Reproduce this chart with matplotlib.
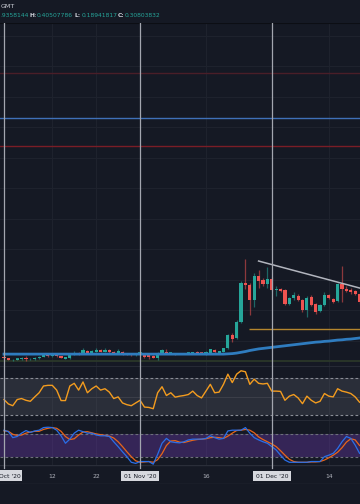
import numpy as np
import matplotlib.pyplot as plt
from matplotlib.patches import Rectangle

# daily candles, day 0 = 01 Oct 2020
opens = [.027, .022, .014, .017, .019, .024, .018, .019, .022, .027,
         .035, .030, .033, .030, .021, .022, .036, .043, .040, .050,
         .040, .048, .053, .048, .055, .047, .041, .047, .041, .037,
         .033, .041, .037, .036, .031, .024, .041, .047, .040, .042,
         .041, .039, .041, .040, .048, .042, .038, .041, .055, .044,
         .047, .060, .110, .100, .162, .312, .304, .246, .338, .323,
         .308, .327, .285, .288, .285, .231, .254, .262, .246, .208,
         .258, .231, .204, .227, .265, .250, .242, .308, .288, .285,
         .281, .269]
highs = [.030, .024, .019, .021, .025, .030, .023, .026, .029, .035,
         .037, .036, .035, .032, .027, .037, .050, .046, .060, .055,
         .052, .062, .056, .060, .058, .050, .058, .050, .043, .039,
         .043, .045, .039, .038, .033, .048, .056, .056, .044, .044,
         .043, .044, .045, .048, .050, .045, .049, .058, .058, .051,
         .062, .115, .119, .170, .318, .404, .312, .350, .362, .330,
         .373, .335, .300, .292, .290, .258, .277, .268, .250, .262,
         .265, .235, .231, .277, .270, .254, .312, .377, .300, .292,
         .285, .273]
lows = [.020, .015, .012, .015, .017, .012, .016, .017, .020, .025,
        .028, .028, .027, .022, .019, .020, .034, .036, .038, .040,
        .038, .046, .046, .046, .043, .039, .039, .036, .034, .031,
        .031, .039, .023, .018, .022, .015, .039, .038, .038, .036,
        .037, .037, .039, .038, .039, .039, .036, .040, .044, .043,
        .045, .058, .085, .095, .158, .290, .188, .219, .292, .300,
        .292, .280, .262, .275, .228, .228, .246, .242, .200, .181,
        .223, .192, .200, .223, .250, .235, .238, .238, .277, .270,
        .265, .230]
closes = [.022, .017, .017, .020, .023, .020, .021, .024, .027, .033,
          .031, .033, .029, .024, .025, .035, .043, .038, .052, .042,
          .050, .053, .048, .054, .045, .041, .051, .038, .036, .033,
          .041, .043, .028, .028, .024, .041, .054, .040, .042, .038,
          .039, .042, .043, .046, .041, .040, .047, .056, .046, .049,
          .060, .110, .098, .162, .312, .304, .246, .338, .319, .308,
          .327, .285, .288, .281, .231, .254, .265, .246, .208, .254,
          .227, .200, .227, .265, .254, .238, .308, .288, .281, .277,
          .269, .238]
ma = [.038, .038, .038, .038, .038, .038, .038, .038, .038, .038,
      .038, .038, .038, .038, .038, .038, .038, .038, .038, .038,
      .038, .038, .038, .038, .038, .038, .038, .038, .038, .038,
      .038, .038, .038, .038, .038, .038, .038, .038, .038, .038,
      .038, .038, .038, .038, .038, .038, .038, .038, .038, .038,
      .038, .039, .040, .042, .045, .048, .052, .055, .058, .060,
      .062, .064, .066, .068, .070, .072, .074, .076, .078, .080,
      .082, .084, .085, .087, .088, .090, .092, .093, .095, .096,
      .098, .100]
rsi = [46.7, 41.9, 40.0, 46.7, 47.8, 45.9, 44.8, 49.6, 54.1, 61.5,
       62.2, 62.2, 57.0, 45.6, 45.6, 61.5, 64.4, 57.0, 65.9, 54.1,
       58.5, 61.5, 57.0, 58.5, 54.8, 47.8, 49.6, 43.0, 41.1, 40.0,
       43.0, 45.9, 38.5, 38.1, 36.7, 54.1, 60.7, 51.1, 54.1, 49.3,
       50.4, 51.1, 52.2, 55.9, 51.1, 48.5, 55.9, 63.3, 54.1, 54.8,
       63.3, 74.4, 65.2, 74.4, 78.1, 77.0, 63.3, 68.9, 64.4, 63.7,
       64.4, 55.9, 55.9, 55.6, 45.9, 50.4, 52.2, 48.5, 42.2, 50.4,
       45.9, 43.0, 44.8, 53.3, 50.4, 49.6, 58.5, 55.9, 54.8, 53.3,
       49.6, 43.8]
stoch_k = [91, 87, 71, 74, 83, 90, 85, 89, 91, 98,
           99, 98, 91, 76, 56, 67, 83, 91, 87, 83,
           83, 78, 76, 76, 74, 60, 47, 33, 20, 5,
           2, 7, 7, 7, 0, 26, 56, 69, 60, 58,
           57, 60, 65, 67, 67, 67, 69, 76, 71, 67,
           69, 89, 91, 91, 91, 98, 83, 71, 65, 60,
           56, 47, 38, 24, 11, 5, 5, 5, 5, 5,
           7, 7, 7, 20, 24, 29, 42, 60, 74, 69,
           51, 29]
stoch_d = [89, 88, 80, 77, 78, 83, 86, 88, 88, 93,
           96, 98, 96, 88, 74, 66, 68, 78, 86, 87,
           84, 81, 79, 77, 75, 70, 60, 47, 33, 20,
           9, 5, 6, 7, 5, 12, 28, 50, 62, 63,
           59, 58, 61, 64, 66, 67, 68, 71, 72, 71,
           69, 75, 83, 90, 91, 93, 91, 84, 73, 66,
           60, 54, 47, 36, 24, 13, 7, 5, 5, 5,
           6, 6, 7, 11, 17, 24, 32, 44, 59, 68,
           65, 50]

levels_red = [1.119, 0.838]
level_blue = 0.946
level_olive = 0.012
support = 0.135
support_start = 55.8
trend_x = [58, 81.5]
trend_y = [0.396, 0.290]

marker_days = [0, 31, 61]
marker_labels = ["Oct '20", "01 Nov '20", "01 Dec '20"]
tick_days = [11, 21, 46, 74]
tick_labels = ["12", "22", "16", "14"]

bg = '#151924'
grid = '#1e222d'
up = '#26a69a'
down = '#ef5350'
vline_col = '#a3a6af'

days = np.arange(len(opens))
opens = np.array(opens)
closes = np.array(closes)
highs = np.array(highs)
lows = np.array(lows)
is_up = closes >= opens
colors = np.where(is_up, up, down)

fig = plt.figure(figsize=(3.6, 5.04), dpi=100, facecolor=bg)
H = 504.0
xlim = (-0.91, 81.1)


def panel(top_px, bottom_px, markers=True):
    ax = fig.add_axes([0, 1 - bottom_px / H, 1, (bottom_px - top_px) / H])
    ax.set_facecolor(bg)
    ax.set_xlim(*xlim)
    for s in ax.spines.values():
        s.set_visible(False)
    ax.tick_params(left=False, bottom=False, labelleft=False, labelbottom=False)
    if markers:
        for d in tick_days:
            ax.axvline(d, color=grid, lw=0.8, zorder=0)
        for d in marker_days:
            ax.axvline(d, color=vline_col, lw=0.9, zorder=5)
    return ax


# main price panel
ax = panel(23, 366)
ax.set_ylim(-0.0077, 1.3115)
for gy in np.arange(0.0885, 1.3, 0.1173):
    ax.axhline(gy, color=grid, lw=0.8, zorder=0)
ax.axhline(levels_red[0], color='#4a1e28', lw=1.0, zorder=1)
ax.axhline(levels_red[1], color='#7a1d26', lw=1.0, zorder=1)
ax.axhline(level_blue, color='#3f70b8', lw=1.0, zorder=1)
ax.axhline(level_olive, color='#2c3a2a', lw=1.2, zorder=1)
ax.vlines(days, lows, highs, colors=colors, lw=0.9, alpha=0.55, zorder=2)
ax.bar(days, closes - opens, bottom=opens, width=0.72, color=colors,
       edgecolor='none', zorder=3)
for i in range(len(days)):
    if abs(closes[i] - opens[i]) < 0.003:
        ax.hlines((opens[i] + closes[i]) / 2, days[i] - 0.36, days[i] + 0.36,
                  colors=colors[i], lw=1.2, zorder=3)
ax.plot(days, ma, color='#2f7cbf', lw=2.0, zorder=4)
ax.hlines(support, support_start, xlim[1], colors='#b5862e', lw=1.0, zorder=4)
ax.plot(trend_x, trend_y, color='#b2b5be', lw=1.1, zorder=4)
ax.axhline(ax.get_ylim()[1], color='#0c0e14', lw=1.5)

# RSI panel
ax_rsi = panel(366, 420)
ax_rsi.set_ylim(24.4, 83.3)
ax_rsi.axhspan(30, 70, color='#787b86', alpha=0.22, lw=0, zorder=0)
ax_rsi.axhline(70, color='#8a8d96', lw=0.8, ls=(0, (2.5, 2)))
ax_rsi.axhline(30, color='#8a8d96', lw=0.8, ls=(0, (2.5, 2)))
ax_rsi.axhline(50, color='#3b3e48', lw=0.8)
ax_rsi.plot(days, rsi, color='#f39c1f', lw=1.0, zorder=4)
ax_rsi.axhline(83.3, color='#2a2e39', lw=1.2)

# Stoch RSI panel
ax_st = panel(420, 465)
ax_st.set_ylim(-2.3, 118.3)
ax_st.axhspan(20, 80, color='#7b3fc4', alpha=0.32, lw=0, zorder=0)
ax_st.axhline(80, color='#6c6f7a', lw=0.8, ls=(0, (2.5, 2)))
ax_st.axhline(20, color='#6c6f7a', lw=0.8, ls=(0, (2.5, 2)))
ax_st.plot(days, stoch_d, color='#e8651a', lw=0.9, zorder=4)
ax_st.plot(days, stoch_k, color='#2a6fe8', lw=0.9, zorder=4)
ax_st.axhline(118.3, color='#2a2e39', lw=1.2)

# time axis strip
ax_t = panel(465, 484, markers=False)
ax_t.set_ylim(0, 1)
ax_t.axhline(1, color='#2a2e39', lw=1.0)
ax_t.axhline(0, color='#2a2e39', lw=1.0)
for d, lab in zip(tick_days, tick_labels):
    ax_t.text(d, 0.42, lab, color='#b2b5be', fontsize=4.3, ha='center', va='center')
for d, lab in zip(marker_days, marker_labels):
    ax_t.plot([d, d], [0.85, 1], color=vline_col, lw=0.9)
    if d == 0:
        # first label is cut by the left edge in the reference: draw the box by hand
        ax_t.add_patch(Rectangle((-1.2, 0.16), 5.3, 0.58, fc='#d6d8de', ec='none',
                                 zorder=3))
        ax_t.text(1.25, 0.42, lab, color='#131722', fontsize=4.3, ha='center',
                  va='center', zorder=4)
    else:
        ax_t.text(d, 0.42, lab, color='#131722', fontsize=4.3, ha='center', va='center',
                  bbox=dict(boxstyle='square,pad=0.45', fc='#d6d8de', ec='none'))

# header texts
fig.text(0.002, 1 - 6 / H, "GMT", color='#c9ccd4', fontsize=4.6, va='center')
row = 1 - 15.5 / H
parts = [(0.5, ".9358144", up), (29.5, "H:", '#d1d4dc'), (36.5, "0.40507786", up),
         (74.5, "L:", '#d1d4dc'), (81.5, "0.18941817", up),
         (118, "C:", '#d1d4dc'), (125, "0.30803832", up)]
for px, s, c in parts:
    fig.text(px / 360.0, row, s, color=c, fontsize=4.3, va='center',
             fontweight='bold' if s.endswith(':') else 'normal')

fig.savefig('out.png', dpi=100, facecolor=bg)
